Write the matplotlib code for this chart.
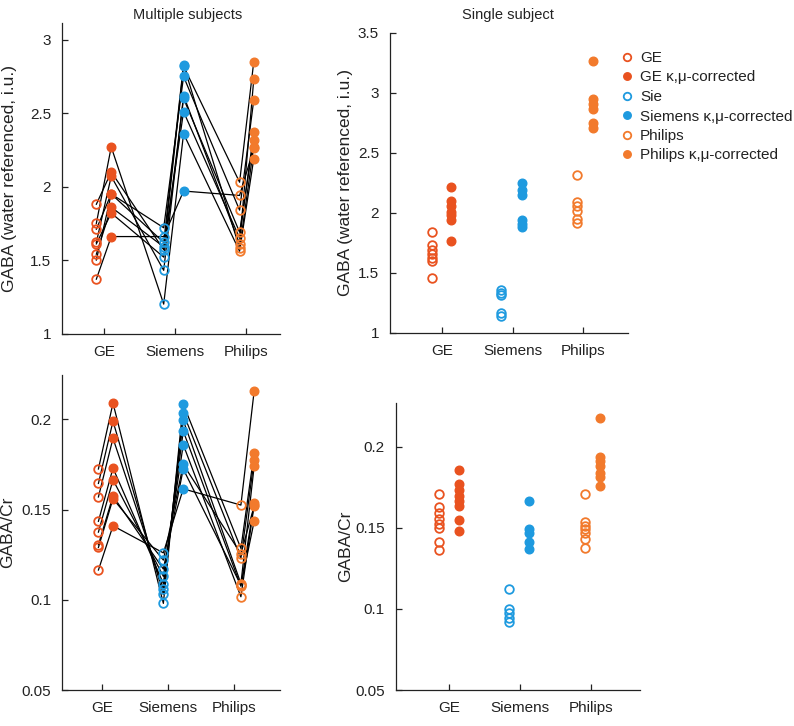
import numpy as np
import matplotlib
matplotlib.use("Agg")
import matplotlib.pyplot as plt
from matplotlib.lines import Line2D
from matplotlib.ticker import FuncFormatter

plt.rcParams['font.family'] = ['Liberation Sans', 'DejaVu Sans']

# --- Data ---
vendors = ["GE", "Siemens", "Philips"]

# multiple subjects, water referenced (one entry per subject)
ge_w = [1.37, 1.75, 1.88, 1.62, 1.50, 1.54, 1.61, 1.71]
ge_w_c = [1.66, 2.27, 2.10, 2.07, 1.95, 1.86, 1.82, 1.95]
sie_w = [1.66, 1.20, 1.57, 1.43, 1.72, 1.59, 1.52, 1.62]
sie_w_c = [1.97, 2.36, 2.82, 2.62, 2.75, 2.51, 2.60, 2.83]
phi_w = [1.94, 1.56, 2.03, 1.61, 1.84, 1.65, 1.69, 1.58]
phi_w_c = [2.26, 2.19, 2.85, 2.73, 2.59, 2.37, 2.32, 2.27]

# multiple subjects, GABA/Cr
ge_cr = [0.1165, 0.129, 0.1725, 0.1645, 0.157, 0.1435, 0.1375, 0.1305]
ge_cr_c = [0.141, 0.156, 0.209, 0.199, 0.1895, 0.173, 0.1665, 0.1575]
sie_cr = [0.126, 0.122, 0.098, 0.103, 0.106, 0.109, 0.113, 0.117]
sie_cr_c = [0.1615, 0.175, 0.2085, 0.2035, 0.1995, 0.1935, 0.186, 0.1725]
phi_cr = [0.1525, 0.1255, 0.1285, 0.123, 0.109, 0.1075, 0.1017, 0.108]
phi_cr_c = [0.2157, 0.152, 0.1815, 0.1775, 0.174, 0.1535, 0.1525, 0.1435]

# single subject, water referenced
ge_sw = [1.84, 1.73, 1.69, 1.66, 1.625, 1.60, 1.46]
ge_sw_c = [2.22, 2.10, 2.055, 2.01, 1.98, 1.945, 1.77]
sie_sw = [1.36, 1.33, 1.32, 1.165, 1.145]
sie_sw_c = [2.25, 2.19, 2.15, 1.94, 1.91, 1.88]
phi_sw = [2.32, 2.09, 2.055, 2.02, 1.95, 1.915]
phi_sw_c = [3.27, 2.95, 2.91, 2.87, 2.75, 2.71]

# single subject, GABA/Cr
ge_scr = [0.1708, 0.163, 0.1589, 0.1552, 0.1523, 0.1496, 0.1414, 0.1362]
ge_scr_c = [0.1856, 0.177, 0.1733, 0.1698, 0.1665, 0.1634, 0.1548, 0.1481]
sie_scr = [0.112, 0.0996, 0.0975, 0.0944, 0.0916]
sie_scr_c = [0.1667, 0.149, 0.1465, 0.1414, 0.137]
phi_scr = [0.1708, 0.1533, 0.1512, 0.149, 0.1465, 0.1428, 0.1373]
phi_scr_c = [0.2173, 0.1938, 0.1912, 0.1881, 0.1836, 0.1811, 0.1757]

legend_labels = ["GE", "GE \u03ba,\u03bc-corrected", "Sie", "Siemens \u03ba,\u03bc-corrected",
                 "Philips", "Philips \u03ba,\u03bc-corrected"]

# --- Style ---
C_GE = "#E9521F"
C_SIE = "#1E9ADF"
C_PHI = "#F27A2C"
colors = [C_GE, C_SIE, C_PHI]
W, H = 794, 726
MS = 6.2


def px_axes(fig, left, top, right, bottom):
    return fig.add_axes([left / W, 1 - bottom / H, (right - left) / W, (bottom - top) / H])


def style(ax, xlim, ylim, yticks, ylabel):
    ax.set_xlim(*xlim)
    ax.set_ylim(*ylim)
    ax.set_xticks([1, 2, 3])
    ax.set_xticklabels(vendors)
    ax.set_yticks(yticks)
    ax.yaxis.set_major_formatter(FuncFormatter(lambda v, p: f"{v:g}"))
    for s in ["top", "right"]:
        ax.spines[s].set_visible(False)
    for s in ["left", "bottom"]:
        ax.spines[s].set_linewidth(0.9)
        ax.spines[s].set_color("#222222")
    ax.tick_params(direction="in", length=4, width=0.9, colors="#222222",
                   labelsize=11, labelcolor="#222222")
    ax.tick_params(axis="y", pad=8)
    ax.tick_params(axis="x", pad=8)
    ax.set_ylabel(ylabel, fontsize=12.5, color="#222222")


def scatter_groups(ax, groups, off_u, off_c):
    for k, (u, c) in enumerate(groups):
        ax.plot(np.full(len(u), k + 1 + off_u[k]), u, "o", ms=MS, mfc="none",
                mec=colors[k], mew=1.3, ls="none", zorder=3)
        ax.plot(np.full(len(c), k + 1 + off_c[k]), c, "o", ms=MS, mfc=colors[k],
                mec=colors[k], ls="none", zorder=3)


def subject_lines(ax, groups, off_u, off_c):
    xs = []
    for k in range(3):
        xs += [k + 1 + off_u[k], k + 1 + off_c[k]]
    n = len(groups[0][0])
    for i in range(n):
        ys = []
        for u, c in groups:
            ys += [u[i], c[i]]
        ax.plot(xs, ys, color="black", lw=0.9, zorder=2)


fig = plt.figure(figsize=(W / 100, H / 100), dpi=100)

# top-left
ax1 = px_axes(fig, 62.3, 23, 280, 333.5)
g1 = [(ge_w, ge_w_c), (sie_w, sie_w_c), (phi_w, phi_w_c)]
ou1, oc1 = [-0.11, -0.16, -0.09], [0.10, 0.12, 0.11]
subject_lines(ax1, g1, ou1, oc1)
scatter_groups(ax1, g1, ou1, oc1)
style(ax1, (0.41, 3.48), (1, 3.114), [1, 1.5, 2, 2.5, 3], "GABA (water referenced, i.u.)")

# bottom-left
ax3 = px_axes(fig, 62.3, 375, 280, 690)
g3 = [(ge_cr, ge_cr_c), (sie_cr, sie_cr_c), (phi_cr, phi_cr_c)]
ou3, oc3 = [-0.05, -0.07, 0.10], [0.17, 0.23, 0.30]
subject_lines(ax3, g3, ou3, oc3)
scatter_groups(ax3, g3, ou3, oc3)
style(ax3, (0.405, 3.69), (0.05, 0.2246), [0.05, 0.1, 0.15, 0.2], "GABA/Cr")

# top-right
ax2 = px_axes(fig, 390, 33, 628, 333)
g2 = [(ge_sw, ge_sw_c), (sie_sw, sie_sw_c), (phi_sw, phi_sw_c)]
scatter_groups(ax2, g2, [-0.14, -0.16, -0.09], [0.13, 0.13, 0.13])
style(ax2, (0.27, 3.63), (1, 3.5), [1, 1.5, 2, 2.5, 3, 3.5], "GABA (water referenced, i.u.)")

# bottom-right
ax4 = px_axes(fig, 396, 403, 640, 690)
g4 = [(ge_scr, ge_scr_c), (sie_scr, sie_scr_c), (phi_scr, phi_scr_c)]
scatter_groups(ax4, g4, [-0.14, -0.15, -0.09], [0.14, 0.13, 0.13])
style(ax4, (0.25, 3.69), (0.05, 0.2268), [0.05, 0.1, 0.15, 0.2], "GABA/Cr")

# align y labels
ax1.yaxis.set_label_coords((17 - 62.3) / (280 - 62.3), 0.5)
ax3.yaxis.set_label_coords((15 - 62.3) / (280 - 62.3), 0.5)
ax2.yaxis.set_label_coords((353 - 390) / (628 - 390), 0.5)
ax4.yaxis.set_label_coords((353 - 396) / (640 - 396), 0.5)

# titles
fig.text(187.5 / W, 1 - 15 / H, "Multiple subjects", ha="center", va="center",
         fontsize=10.5, color="#222222")
fig.text(507.5 / W, 1 - 15 / H, "Single subject", ha="center", va="center",
         fontsize=10.5, color="#222222")

# legend
handles = []
for k in range(3):
    handles.append(Line2D([], [], marker="o", ls="none", ms=MS - 0.8, mfc="none",
                          mec=colors[k], mew=1.3))
    handles.append(Line2D([], [], marker="o", ls="none", ms=MS - 0.8, mfc=colors[k],
                          mec=colors[k]))
fig.legend(handles, legend_labels, loc="upper left",
           bbox_to_anchor=(621 / W, 1 - 51 / H), frameon=False, fontsize=11,
           handlelength=0.8, handletextpad=0.45, labelspacing=0.36, borderpad=0,
           borderaxespad=0, labelcolor="#222222")

fig.savefig("out.png", dpi=100)
